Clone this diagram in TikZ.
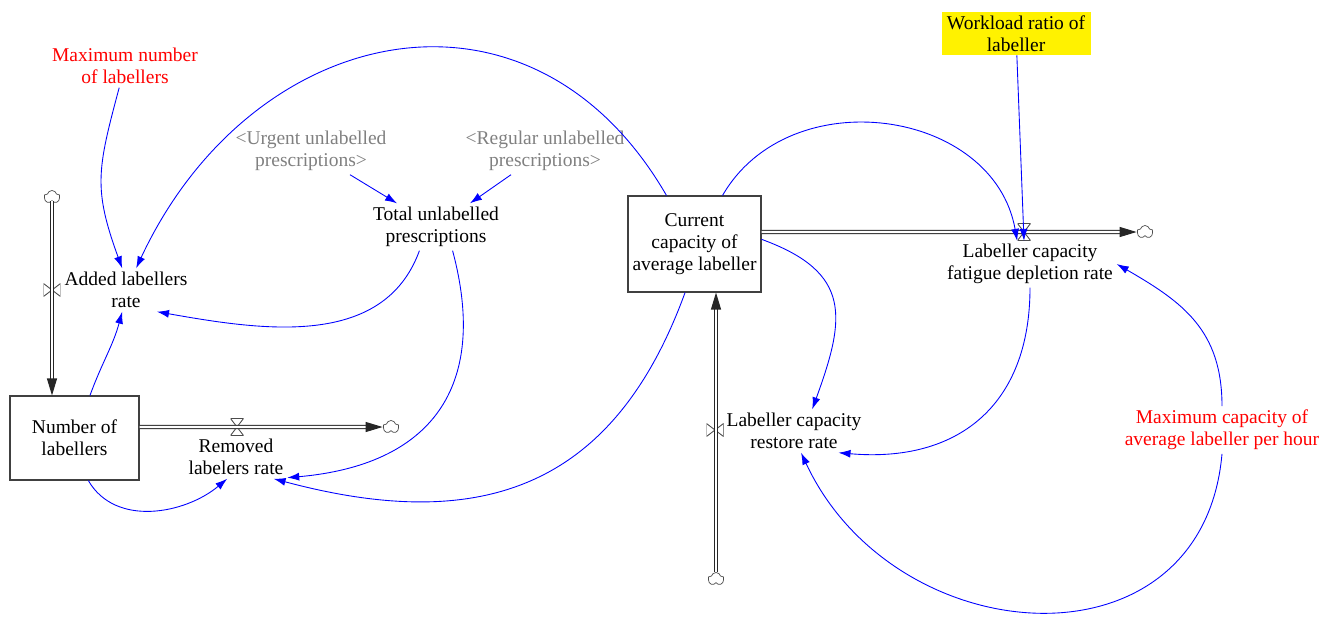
\documentclass[tikz,border=0pt]{standalone}
\usepackage{fontspec}
\setmainfont{Liberation Serif}
\newfontfamily\labelfont{Liberation Serif}
\usetikzlibrary{shapes.symbols, arrows.meta}

\begin{document}
\begin{tikzpicture}[x=0.02cm, y=-0.02cm,
    every node/.style={font=\labelfont\fontsize{11.1}{12.5}\selectfont, align=center, inner sep=2pt},
    stock/.style={rectangle, draw=black!75, line width=0.6pt},
    sink/.style={cloud, cloud puffs=5, draw=black!70, line width=0.4pt, inner sep=0pt, minimum width=0.32cm, minimum height=0.26cm},
    hvalve/.style={inner sep=0pt, minimum width=0.26cm, minimum height=0.34cm, path picture={
        \draw[black!70, line width=0.5pt] (path picture bounding box.north west) -- (path picture bounding box.north east)
            -- (path picture bounding box.south west) -- (path picture bounding box.south east) -- cycle;}},
    vvalve/.style={inner sep=0pt, minimum width=0.34cm, minimum height=0.26cm, path picture={
        \draw[black!70, line width=0.5pt] (path picture bounding box.north west) -- (path picture bounding box.south west)
            -- (path picture bounding box.north east) -- (path picture bounding box.south east) -- cycle;}},
    pipe/.style={draw=black!85, line width=0.6pt, double=white, double distance=1.2pt, -{Triangle[length=0.34cm, width=0.2cm]}},
    link/.style={blue, line width=0.5pt, -{Latex[length=0.24cm, width=0.16cm]}}]
    \useasboundingbox (0,0) rectangle (1338,616);
    % Nodes
    \node (maxlab) [text=red] at (125,66) {Maximum number\\ of labellers};
    \node (added) at (126,290) {Added labellers\\ rate};
    \node (numlab) [stock, minimum width=2.58cm, minimum height=1.68cm] at (74.5,438) {Number of\\ labellers};
    \node (removed) at (236,457) {Removed\\ labelers rate};
    \node (urgent) [text=gray] at (311,151) {<Urgent unlabelled\\ prescriptions>};
    \node (regular) [text=gray] at (545,151) {<Regular unlabelled\\ prescriptions>};
    \node (total) at (436,227) {Total unlabelled\\ prescriptions};
    \node (current) [stock, minimum width=2.66cm, minimum height=1.92cm] at (694.5,244) {Current\\ capacity of\\ average labeller};
    \node (workload) [fill=yellow, minimum width=2.98cm, minimum height=0.86cm, inner sep=0pt] at (1016,33.5) {Workload ratio of\\ labeller};
    \node (fatigue) at (1030,264) {Labeller capacity\\ fatigue depletion rate};
    \node (restore) at (794,431) {Labeller capacity\\ restore rate};
    \node (maxcap) [text=red] at (1222,430) {Maximum capacity of\\ average labeller per hour};
    % Clouds and valves
    \node (srcadd) [sink] at (52,197) {};
    \node (sinkrem) [sink] at (391,427) {};
    \node (sinkfat) [sink] at (1145,232) {};
    \node (srcres) [sink] at (716,579) {};
    \node (vadd) [vvalve] at (52,290) {};
    \node (vrem) [hvalve] at (237,427) {};
    \node (vfat) [hvalve] at (1024,232) {};
    \node (vres) [vvalve] at (715,430) {};
    % Flows
    \draw[pipe] (srcadd) -- (srcadd |- numlab.north);
    \draw[pipe] (numlab.east |- vrem) -- (sinkrem);
    \draw[pipe] (current.east |- vfat) -- (sinkfat);
    \draw[pipe] (srcres) -- (srcres |- current.south);
    % Arrows
    \draw[link] (maxlab) to[out=255, in=110, looseness=1.2] (added.100);
    \draw[link] (current.120) to[out=120, in=65, looseness=1.3] (added.65);
    \draw[link] (total.235) to[out=250, in=-10] (added.-35);
    \draw[link] (numlab.70) to[out=70, in=255] (added.-100);
    \draw[link] (urgent) -- (total);
    \draw[link] (regular) -- (total);
    \draw[link] (total.-55) to[out=-75, in=5, looseness=1.3] (removed.-22);
    \draw[link] (current.4) to[out=-20, in=70, looseness=1.4] (restore.50);
    \draw[link] (current.259) to[out=250, in=-15, looseness=1.2] (removed.-30);
    \draw[link] (numlab.-72) to[out=-60, in=220] (removed.-112);
    \draw[link] (current.60) to[out=60, in=100, looseness=1.15] (vfat.south west);
    \draw[link] (workload) -- (vfat.south);
    \draw[link] (fatigue.south) to[out=-90, in=-5, looseness=1.2] (restore.-26);
    \draw[link] (maxcap.north) to[out=90, in=-30, looseness=1.1] (fatigue.east);
    \draw[link] (maxcap.south) to[out=-95, in=-65, looseness=1.35] (restore.-72);
\end{tikzpicture}
\end{document}
